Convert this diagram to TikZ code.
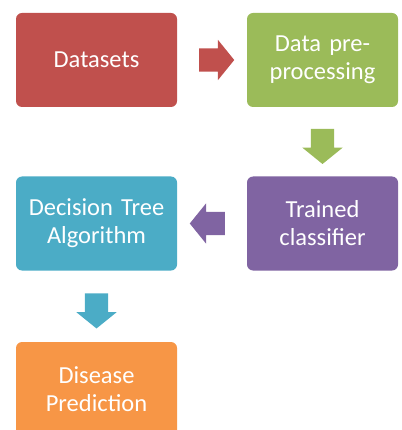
\documentclass[tikz,border=0pt]{standalone}
\usepackage{fontspec}
\setmainfont{Carlito}
\usetikzlibrary{shapes.arrows,calc}
\definecolor{dsred}{HTML}{C0504D}
\definecolor{ppgreen}{HTML}{9BBB59}
\definecolor{tcpurple}{HTML}{8064A2}
\definecolor{dtteal}{HTML}{4BACC6}
\definecolor{dporange}{HTML}{F79646}
\begin{document}
\begin{tikzpicture}[x=1pt,y=-1pt,
  stage/.style={rectangle,rounded corners=6pt,minimum width=161pt,minimum height=94pt,
    text width=155pt,align=center,text=white,inner sep=0pt,
    font=\fontsize{24.5}{28}\selectfont},
  narrow/.style={minimum width=151pt,text width=147pt},
  blockarrow/.style={single arrow,single arrow head extend=8.5pt,single arrow tip angle=102,
    single arrow head indent=0pt,inner sep=11.5pt,minimum height=35pt,minimum width=40pt}]
\clip (0,0) rectangle (401,430);
% boxes
\node [stage,fill=dsred] (datasets) at (96.5,60) {Datasets};
\node [stage,narrow,fill=ppgreen] (preproc) at (322.5,60) {Data pre-\\processing};
\node [stage,narrow,fill=tcpurple] (trained) at (322.5,223.5) {Trained\\classifier};
\node [stage,fill=dtteal] (dtree) at (96.5,223.5) {Decision Tree\\Algorithm};
\node [stage,fill=dporange] (predict) at (96.5,389) {Disease\\Prediction};
% arrows
\node [blockarrow,fill=dsred] (a1) at ($(datasets.east)!0.5!(preproc.west)$) {};
\node [blockarrow,fill=ppgreen,shape border rotate=270] (a2) at ($(preproc.south)!0.5!(trained.north)$) {};
\node [blockarrow,fill=tcpurple,shape border rotate=180] (a3) at ($(trained.west)!0.5!(dtree.east)$) {};
\node [blockarrow,fill=dtteal,shape border rotate=270] (a4) at ($(dtree.south)!0.5!(predict.north)$) {};
\end{tikzpicture}
\end{document}
